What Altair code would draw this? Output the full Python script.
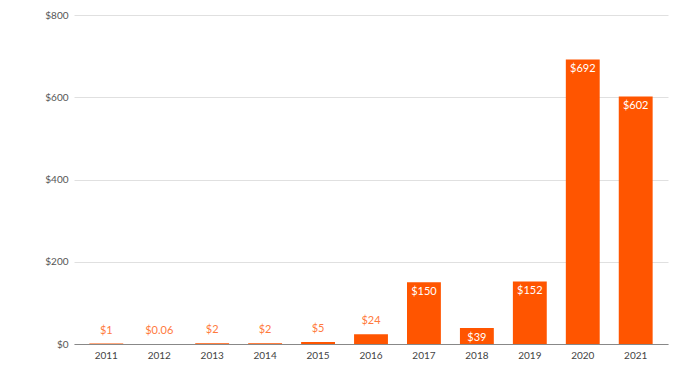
import altair as alt
import pandas as pd

years = ["2011", "2012", "2013", "2014", "2015", "2016", "2017", "2018", "2019", "2020", "2021"]
values = [1, 0.06, 2, 2, 5, 24, 150, 39, 152, 692, 602]
labels = ["$1", "$0.06", "$2", "$2", "$5", "$24", "$150", "$39", "$152", "$692", "$602"]
inside = [False, False, False, False, False, False, True, True, True, True, True]

df = pd.DataFrame({"year": years, "value": values, "label": labels, "inside": inside})

BAR = "#ff5500"
FONT = "Lato"

x = alt.X("year:N", title=None, sort=years,
          scale=alt.Scale(paddingInner=0.36, paddingOuter=0.29),
          axis=alt.Axis(labelAngle=0, ticks=False, domainColor="#888", labelColor="#444",
                        labelFont=FONT, labelFontSize=10, labelPadding=6, grid=False))
y = alt.Y("value:Q", title=None, scale=alt.Scale(domain=[0, 800]),
          axis=alt.Axis(values=[0, 200, 400, 600, 800], labelExpr="'$' + datum.value",
                        ticks=False, domain=False, gridColor="#e0e0e0", labelColor="#555",
                        labelFont=FONT, labelFontSize=10, labelPadding=6))

bars = alt.Chart(df).mark_bar(color=BAR).encode(x=x, y=y)

out_labels = alt.Chart(df).transform_filter("!datum.inside").mark_text(
    color="#ff7a3d", font=FONT, fontSize=11, baseline="bottom", dy=-8
).encode(x=alt.X("year:N", sort=years), y="value:Q", text="label:N")

in_labels = alt.Chart(df).transform_filter("datum.inside").mark_text(
    color="white", font=FONT, fontSize=11, baseline="top", dy=4
).encode(x=alt.X("year:N", sort=years), y="value:Q", text="label:N")

chart = alt.layer(bars, out_labels, in_labels).properties(
    width=594, height=329,
    autosize=alt.AutoSizeParams(type="none"),
    padding={"left": 74, "top": 15, "right": 23, "bottom": 36},
    background="white",
).configure_view(stroke=None)

chart.save("out.html", embed_options={"renderer": "svg", "actions": False})
